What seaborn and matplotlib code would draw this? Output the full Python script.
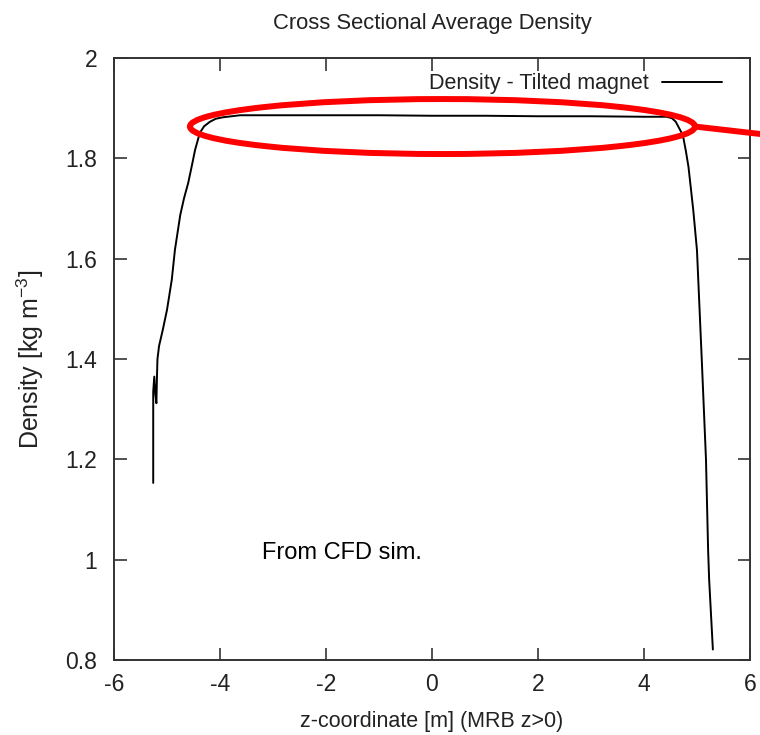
import matplotlib
matplotlib.use("Agg")
import matplotlib.pyplot as plt
from matplotlib.patches import Ellipse
import seaborn as sns
import pandas as pd

# Cross-sectional average density along the magnet axis (tilted magnet case)
z_coord = [-5.26, -5.26, -5.24, -5.22, -5.20, -5.19, -5.18, -5.15, -5.08, -5.00,
           -4.91, -4.85, -4.75, -4.68, -4.60, -4.53, -4.47, -4.38, -4.30, -4.19,
           -4.08, -3.94, -3.62, -3.00, -2.00, -1.00, 0.00, 1.00, 2.00, 3.00,
           4.00, 4.43, 4.53, 4.60, 4.65, 4.70, 4.74, 4.79, 4.84, 4.93,
           5.00, 5.09, 5.17, 5.21, 5.23, 5.30]
density = [1.153, 1.335, 1.365, 1.330, 1.312, 1.362, 1.400, 1.426, 1.458, 1.498,
           1.558, 1.618, 1.687, 1.720, 1.751, 1.786, 1.817, 1.851, 1.864, 1.873,
           1.879, 1.882, 1.886, 1.886, 1.886, 1.886, 1.885, 1.885, 1.884, 1.884,
           1.883, 1.883, 1.880, 1.873, 1.863, 1.853, 1.843, 1.815, 1.783, 1.697,
           1.617, 1.400, 1.200, 1.020, 0.960, 0.821]

x_ticks = [-6, -4, -2, 0, 2, 4, 6]
y_ticks = [0.8, 1.0, 1.2, 1.4, 1.6, 1.8, 2.0]
y_tick_labels = ["0.8", "1", "1.2", "1.4", "1.6", "1.8", "2"]

series_name = "Density - Tilted magnet"
df = pd.DataFrame({"z": z_coord, "rho": density})

sns.set_theme(style="ticks")
plt.rcParams["font.family"] = ["Liberation Sans", "DejaVu Sans"]
plt.rcParams["mathtext.fontset"] = "custom"
plt.rcParams["mathtext.rm"] = "Liberation Sans"

fig = plt.figure(figsize=(7.6, 7.35), dpi=100)
ax = fig.add_axes([0.15, 0.102, 0.8368, 0.819])

sns.lineplot(data=df, x="z", y="rho", sort=False, estimator=None,
             color="black", linewidth=1.4, label=series_name, ax=ax)

ax.set_xlim(-6, 6)
ax.set_ylim(0.8, 2.0)
ax.set_xticks(x_ticks)
ax.set_xticklabels([str(t) for t in x_ticks])
ax.set_yticks(y_ticks)
ax.set_yticklabels(y_tick_labels)

for side in ["top", "right", "bottom", "left"]:
    ax.spines[side].set_visible(True)
    ax.spines[side].set_color("#333333")
    ax.spines[side].set_linewidth(1.4)

ax.tick_params(axis="both", which="major", direction="in", length=9, width=1.2,
               color="#333333", top=True, right=True, labelsize=16.5,
               labelcolor="#222222")
ax.tick_params(axis="x", pad=9)
ax.tick_params(axis="y", pad=12)

ax.set_title("Cross Sectional Average Density", fontsize=15.8, color="#222222", pad=21)
ax.set_xlabel("z-coordinate [m] (MRB z>0)", fontsize=15.5, color="#222222", labelpad=11)
ax.set_ylabel(r"Density [kg m$^{-3}$]", fontsize=18, color="#222222", labelpad=14)

leg = ax.legend(loc="upper right", frameon=False, markerfirst=False, fontsize=15.5,
                handlelength=2.8, handletextpad=0.6, borderaxespad=0.3,
                bbox_to_anchor=(0.98, 1.0))
for t in leg.get_texts():
    t.set_color("#222222")

ax.text(-3.2, 1.014, "From CFD sim.", fontsize=17, color="black",
        ha="left", va="center")

# Highlight around the density plateau, with a pointer running off to the right
ax.add_patch(Ellipse((0.198, 1.8635), 9.53, 0.1096, fill=False,
                     edgecolor="#ff0000", linewidth=4.3, zorder=5))
ax.plot([4.96, 6.5], [1.8635, 1.845], color="#ff0000", linewidth=4.3,
        clip_on=False, zorder=5, solid_capstyle="butt")

fig.savefig("out.png", dpi=100)
